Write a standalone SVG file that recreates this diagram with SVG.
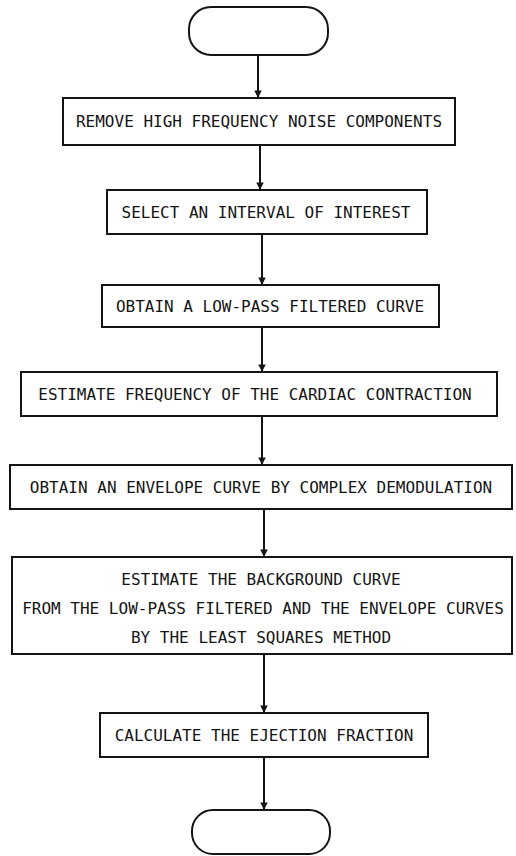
<svg xmlns="http://www.w3.org/2000/svg" width="516" height="856" viewBox="0 0 516 856">
  <style>
    .shape { fill: #ffffff; stroke: #141414; stroke-width: 2; }
    .label { font-family: "DejaVu Sans Mono", "Liberation Mono", monospace; font-size: 16px; fill: #141414; text-anchor: middle; }
    .flow { stroke: #141414; stroke-width: 2; fill: none; marker-end: url(#head); }
  </style>
  <defs>
    <marker id="head" viewBox="0 0 10 12" refX="10" refY="6" markerWidth="11" markerHeight="9" markerUnits="userSpaceOnUse" orient="auto">
      <path d="M0,1 L10,6 L0,11 Z" fill="#141414"/>
    </marker>
  </defs>
  <rect width="516" height="856" fill="#ffffff"/>

  <!-- connectors -->
  <g id="connectors">
    <line class="flow" x1="258" y1="55" x2="258" y2="98"/>
    <line class="flow" x1="260" y1="145" x2="260" y2="190"/>
    <line class="flow" x1="262" y1="234" x2="262" y2="285"/>
    <line class="flow" x1="262" y1="327" x2="262" y2="372"/>
    <line class="flow" x1="262" y1="416" x2="262" y2="465"/>
    <line class="flow" x1="264" y1="509" x2="264" y2="557"/>
    <line class="flow" x1="264" y1="654" x2="264" y2="713"/>
    <line class="flow" x1="264" y1="757" x2="264" y2="810"/>
  </g>

  <!-- start terminal -->
  <g id="start">
    <rect class="shape" x="189" y="7" width="139" height="48" rx="22" ry="22"/>
  </g>

  <g id="remove-noise">
    <rect class="shape" x="63" y="98" width="392" height="47"/>
    <text class="label" x="259" y="127">REMOVE HIGH FREQUENCY NOISE COMPONENTS</text>
  </g>

  <g id="select-interval">
    <rect class="shape" x="107" y="190" width="320" height="44"/>
    <text class="label" x="266" y="218">SELECT AN INTERVAL OF INTEREST</text>
  </g>

  <g id="low-pass">
    <rect class="shape" x="102" y="285" width="337" height="42"/>
    <text class="label" x="270" y="312">OBTAIN A LOW-PASS FILTERED CURVE</text>
  </g>

  <g id="estimate-frequency">
    <rect class="shape" x="21" y="372" width="476" height="44"/>
    <text class="label" x="255" y="400">ESTIMATE FREQUENCY OF THE CARDIAC CONTRACTION</text>
  </g>

  <g id="envelope">
    <rect class="shape" x="10" y="465" width="502" height="44"/>
    <text class="label" x="261" y="493">OBTAIN AN ENVELOPE CURVE BY COMPLEX DEMODULATION</text>
  </g>

  <g id="background">
    <rect class="shape" x="12" y="557" width="500" height="97"/>
    <text class="label" x="261" y="585">ESTIMATE THE BACKGROUND CURVE</text>
    <text class="label" x="263" y="614">FROM THE LOW-PASS FILTERED AND THE ENVELOPE CURVES</text>
    <text class="label" x="261" y="643">BY THE LEAST SQUARES METHOD</text>
  </g>

  <g id="ejection-fraction">
    <rect class="shape" x="100" y="713" width="328" height="44"/>
    <text class="label" x="264" y="741">CALCULATE THE EJECTION FRACTION</text>
  </g>

  <!-- end terminal -->
  <g id="end">
    <rect class="shape" x="192" y="810" width="138" height="44" rx="21" ry="21"/>
  </g>
</svg>
